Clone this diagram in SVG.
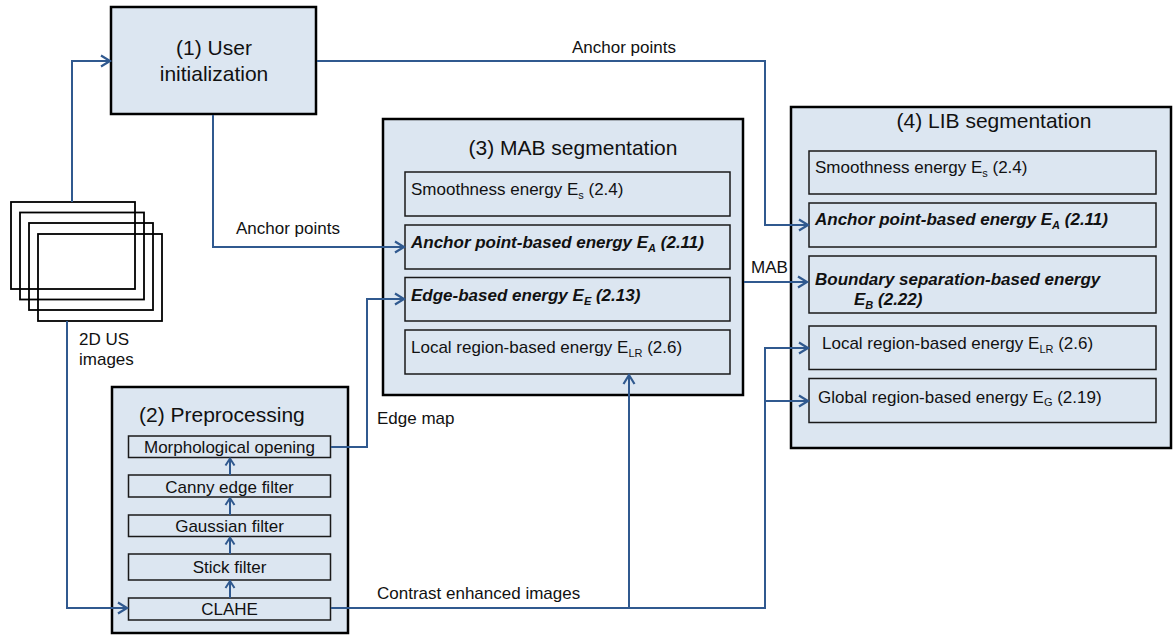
<svg xmlns="http://www.w3.org/2000/svg" width="1173" height="635" viewBox="0 0 1173 635">
  <style>
    text { font-family: "Liberation Sans", Arial, sans-serif; fill: #111; }
    .outer { fill: #dce6f1; stroke: #000; stroke-width: 2.5; }
    .inner { fill: #dce6f1; stroke: #1a1a1a; stroke-width: 1.5; }
    .frame { fill: none; stroke: #000; stroke-width: 1.8; }
    .title { font-size: 21px; }
    .lbl { font-size: 17px; }
    .bi { font-size: 17px; font-weight: bold; font-style: italic; }
    .sub { font-size: 11px; }
    .wire { fill: none; stroke: #30598f; stroke-width: 2; }
    .arr { marker-end: url(#head); }
    .arr-s { marker-end: url(#head-s); }
  </style>
  <defs>
    <marker id="head" markerUnits="userSpaceOnUse" markerWidth="14" markerHeight="14" viewBox="-11 -7 14 14" refX="0" refY="0" orient="auto">
      <path d="M-9,-5.5 L0,0 L-9,5.5" fill="none" stroke="#30598f" stroke-width="2.2"/>
    </marker>
    <marker id="head-s" markerUnits="userSpaceOnUse" markerWidth="12" markerHeight="12" viewBox="-9 -6 12 12" refX="0" refY="0" orient="auto">
      <path d="M-7,-4.5 L0,0 L-7,4.5" fill="none" stroke="#30598f" stroke-width="2"/>
    </marker>
  </defs>

  <!-- input image stack -->
  <g id="images">
    <rect class="frame" x="11" y="202" width="124" height="87"/>
    <rect class="frame" x="20" y="212.5" width="124" height="87"/>
    <rect class="frame" x="29" y="223" width="124" height="87"/>
    <rect class="frame" x="38" y="234" width="124" height="87"/>
    <text class="lbl" x="79" y="345">2D US</text>
    <text class="lbl" x="79" y="365">images</text>
  </g>

  <!-- (1) user initialization -->
  <g id="user-init">
    <rect class="outer" x="111" y="7" width="205" height="107"/>
    <text class="title" x="214" y="55" text-anchor="middle">(1) User</text>
    <text class="title" x="214" y="81" text-anchor="middle">initialization</text>
  </g>

  <!-- (2) preprocessing -->
  <g id="preprocessing">
    <rect class="outer" x="112" y="387" width="236" height="246"/>
    <text class="title" x="139" y="422">(2) Preprocessing</text>
    <rect class="inner" x="128.5" y="436" width="202" height="21.5"/>
    <text class="lbl" x="229.5" y="453" text-anchor="middle">Morphological opening</text>
    <rect class="inner" x="128.5" y="475" width="202" height="22"/>
    <text class="lbl" x="229.5" y="493" text-anchor="middle">Canny edge filter</text>
    <rect class="inner" x="128.5" y="515" width="202" height="21.5"/>
    <text class="lbl" x="229.5" y="532" text-anchor="middle">Gaussian filter</text>
    <rect class="inner" x="128.5" y="554" width="202" height="26"/>
    <text class="lbl" x="229.5" y="573" text-anchor="middle">Stick filter</text>
    <rect class="inner" x="128.5" y="598" width="202" height="22"/>
    <text class="lbl" x="229.5" y="615" text-anchor="middle">CLAHE</text>
    <path class="wire arr-s" d="M230,598 V581"/>
    <path class="wire arr-s" d="M230,554 V537.5"/>
    <path class="wire arr-s" d="M230,515 V498"/>
    <path class="wire arr-s" d="M230,475 V458.5"/>
  </g>

  <!-- (3) MAB segmentation -->
  <g id="mab">
    <rect class="outer" x="383" y="119" width="360" height="276"/>
    <text class="title" x="573" y="155" text-anchor="middle">(3) MAB segmentation</text>
    <rect class="inner" x="405" y="172" width="325" height="44"/>
    <text class="lbl" x="411" y="195">Smoothness energy E<tspan class="sub" dy="4">s</tspan><tspan dy="-4"> (2.4)</tspan></text>
    <rect class="inner" x="405" y="225" width="325" height="44"/>
    <text class="bi" x="411" y="248">Anchor point-based energy E<tspan class="sub" dy="4">A</tspan><tspan dy="-4"> (2.11)</tspan></text>
    <rect class="inner" x="405" y="277.5" width="325" height="43.5"/>
    <text class="bi" x="411" y="301">Edge-based energy E<tspan class="sub" dy="4">E</tspan><tspan dy="-4"> (2.13)</tspan></text>
    <rect class="inner" x="405" y="330" width="325" height="44"/>
    <text class="lbl" x="411" y="353">Local region-based energy E<tspan class="sub" dy="4">LR</tspan><tspan dy="-4"> (2.6)</tspan></text>
  </g>

  <!-- (4) LIB segmentation -->
  <g id="lib">
    <rect class="outer" x="791" y="107" width="380" height="341"/>
    <text class="title" x="994" y="128" text-anchor="middle">(4) LIB segmentation</text>
    <rect class="inner" x="809" y="151" width="347" height="43"/>
    <text class="lbl" x="815" y="173">Smoothness energy E<tspan class="sub" dy="4">s</tspan><tspan dy="-4"> (2.4)</tspan></text>
    <rect class="inner" x="809" y="203" width="347" height="44"/>
    <text class="bi" x="815" y="225">Anchor point-based energy E<tspan class="sub" dy="4">A</tspan><tspan dy="-4"> (2.11)</tspan></text>
    <rect class="inner" x="809" y="256" width="347" height="57"/>
    <text class="bi" x="815" y="285">Boundary separation-based energy</text>
    <text class="bi" x="854" y="305">E<tspan class="sub" dy="4">B</tspan><tspan dy="-4"> (2.22)</tspan></text>
    <rect class="inner" x="809" y="326" width="347" height="43.5"/>
    <text class="lbl" x="822" y="349">Local region-based energy E<tspan class="sub" dy="4">LR</tspan><tspan dy="-4"> (2.6)</tspan></text>
    <rect class="inner" x="809" y="378.5" width="347" height="44"/>
    <text class="lbl" x="818" y="403">Global region-based energy E<tspan class="sub" dy="3">G</tspan><tspan dy="-3"> (2.19)</tspan></text>
  </g>

  <!-- connectors, drawn over the boxes they enter -->
  <g id="connectors">
    <path class="wire arr" d="M72,202 V61 H110"/>
    <path class="wire arr" d="M317,61 H765 V225 H808"/>
    <path class="wire arr" d="M213,115 V247 H404"/>
    <path class="wire arr" d="M67,321 V608 H127"/>
    <path class="wire arr" d="M331,447 H367 V299 H404"/>
    <path class="wire arr" d="M331,608 H765 V348 H808"/>
    <path class="wire arr" d="M765,401 H808"/>
    <path class="wire arr" d="M629,608 V375"/>
    <path class="wire arr" d="M744,282 H807"/>
    <text class="lbl" x="572" y="53">Anchor points</text>
    <text class="lbl" x="236" y="234">Anchor points</text>
    <text class="lbl" x="377" y="424">Edge map</text>
    <text class="lbl" x="377" y="599">Contrast enhanced images</text>
    <text class="lbl" x="751" y="273">MAB</text>
  </g>
</svg>
